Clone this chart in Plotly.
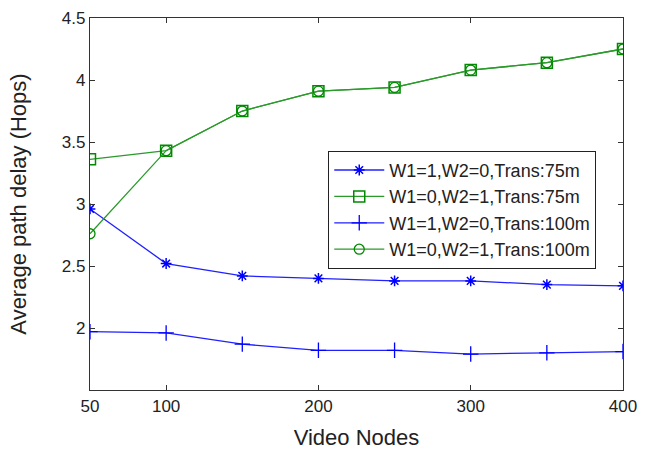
import plotly.graph_objects as go

nodes = [50, 100, 150, 200, 250, 300, 350, 400]
s_w1_75 = [2.96, 2.52, 2.42, 2.40, 2.38, 2.38, 2.35, 2.34]
s_w2_75 = [3.36, 3.43, 3.75, 3.91, 3.94, 4.08, 4.14, 4.25]
s_w1_100 = [1.97, 1.96, 1.87, 1.82, 1.82, 1.79, 1.80, 1.81]
s_w2_100 = [2.76, 3.43, 3.75, 3.91, 3.94, 4.08, 4.14, 4.25]
names = ["W1=1,W2=0,Trans:75m", "W1=0,W2=1,Trans:75m",
         "W1=1,W2=0,Trans:100m", "W1=0,W2=1,Trans:100m"]
x_ticks = [50, 100, 200, 300, 400]
y_ticks = [2, 2.5, 3, 3.5, 4, 4.5]

blue = "#2020ff"
green = "#2a9a2a"
mgreen = "#008a00"
FONT = "Liberation Sans, Arial"

fig = go.Figure()
fig.add_trace(go.Scatter(x=nodes, y=s_w1_75, name=names[0], mode="lines+markers",
                         line=dict(color=blue, width=1.3),
                         marker=dict(symbol="asterisk-open", size=9, color="#0000ff",
                                     line=dict(color="#0000ff", width=1.5))))
fig.add_trace(go.Scatter(x=nodes, y=s_w2_75, name=names[1], mode="lines+markers",
                         line=dict(color=green, width=1.3),
                         marker=dict(symbol="square-open", size=11, color=mgreen,
                                     line=dict(color=mgreen, width=1.5))))
fig.add_trace(go.Scatter(x=nodes, y=s_w1_100, name=names[2], mode="lines+markers",
                         line=dict(color=blue, width=1.3),
                         marker=dict(symbol="cross-thin-open", size=11, color="#0000ff",
                                     line=dict(color="#0000ff", width=1.3))))
fig.add_trace(go.Scatter(x=nodes, y=s_w2_100, name=names[3], mode="lines+markers",
                         line=dict(color=green, width=1.3),
                         marker=dict(symbol="circle-open", size=10, color=mgreen,
                                     line=dict(color=mgreen, width=1.3))))

axis_common = dict(showline=True, linecolor="#333333", linewidth=1.2, mirror="ticks",
                   ticks="inside", ticklen=5, tickcolor="#333333", showgrid=False,
                   zeroline=False, automargin=False,
                   tickfont=dict(family=FONT, size=17, color="#222222"))

fig.update_layout(
    width=648, height=450,
    margin=dict(l=90, r=25, t=18, b=60),
    paper_bgcolor="white", plot_bgcolor="white",
    font=dict(family=FONT, color="#222222"),
    xaxis=dict(range=[50, 400], tickvals=x_ticks,
               title=dict(text="Video Nodes", font=dict(size=22), standoff=15),
               **axis_common),
    yaxis=dict(range=[1.5, 4.5], tickvals=y_ticks, ticktext=[str(v) for v in y_ticks],
               title=dict(text="Average path delay (Hops)", font=dict(size=22), standoff=29),
               **axis_common),
    legend=dict(x=0.447, y=0.643, xanchor="left", yanchor="top",
                bordercolor="#222222", borderwidth=1, bgcolor="white",
                font=dict(size=18, family=FONT),
                tracegroupgap=0, itemwidth=50),
    showlegend=True,
)

fig.write_html("out.html")
